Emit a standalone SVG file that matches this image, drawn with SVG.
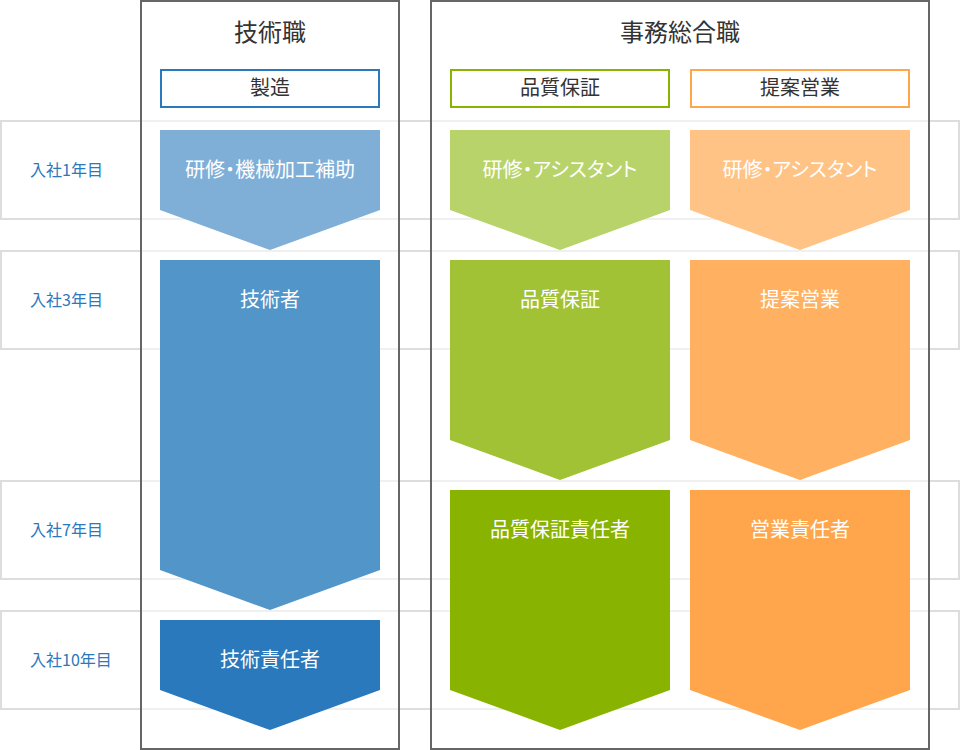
<svg xmlns="http://www.w3.org/2000/svg" width="960" height="750" viewBox="0 0 960 750">
<style>
text{font-family:"Noto Sans CJK JP","Noto Sans",sans-serif;text-anchor:middle}
.band{fill:#fff;stroke:#ddd;stroke-width:2}
.col{fill:#fff;fill-opacity:0.55;stroke:#666;stroke-width:2}
.title{font-size:24px;fill:#333}
.sub{fill:#fff;stroke-width:2}
.subt{font-size:20px;fill:#333}
.yr{font-size:16px;fill:#2a79bc;text-anchor:start}
.at{font-size:20px;fill:#fff;font-feature-settings:"palt"}
</style>
<g id="rows">
<g id="row1"><rect class="band" x="1" y="121" width="958" height="98"/><text class="yr" x="30" y="176">入社1年目</text></g>
<g id="row3"><rect class="band" x="1" y="251" width="958" height="98"/><text class="yr" x="30" y="306">入社3年目</text></g>
<g id="row7"><rect class="band" x="1" y="481" width="958" height="98"/><text class="yr" x="30" y="536">入社7年目</text></g>
<g id="row10"><rect class="band" x="1" y="611" width="958" height="98"/><text class="yr" x="30" y="666">入社10年目</text></g>
</g>
<g id="col-tech">
<rect class="col" x="141" y="1" width="258" height="748"/>
<text class="title" x="270" y="41">技術職</text>
</g>
<g id="col-office">
<rect class="col" x="431" y="1" width="498" height="748"/>
<text class="title" x="680" y="41">事務総合職</text>
</g>
<g id="sub-seizo"><rect class="sub" x="161" y="70" width="218" height="37" stroke="#2a79bc"/><text class="subt" x="270" y="95">製造</text></g>
<g id="sub-qa"><rect class="sub" x="451" y="70" width="218" height="37" stroke="#88b300"/><text class="subt" x="560" y="95">品質保証</text></g>
<g id="sub-sales"><rect class="sub" x="691" y="70" width="218" height="37" stroke="#ffa64d"/><text class="subt" x="800" y="95">提案営業</text></g>
<g id="connectors"></g>
<g id="t1"><polygon points="160,130 380,130 380,210 270,250 160,210" fill="#7fafd7"/><text class="at" x="270" y="177">研修・機械加工補助</text></g>
<g id="t2"><polygon points="160,260 380,260 380,570 270,610 160,570" fill="#5295c9"/><text class="at" x="270" y="307">技術者</text></g>
<g id="t3"><polygon points="160,620 380,620 380,690 270,730 160,690" fill="#2a79bc"/><text class="at" x="270" y="667">技術責任者</text></g>
<g id="q1"><polygon points="450,130 670,130 670,210 560,250 450,210" fill="#b8d36a"/><text class="at" x="560" y="177">研修・アシスタント</text></g>
<g id="q2"><polygon points="450,260 670,260 670,440 560,480 450,440" fill="#a1c234"/><text class="at" x="560" y="307">品質保証</text></g>
<g id="q3"><polygon points="450,490 670,490 670,690 560,730 450,690" fill="#88b300"/><text class="at" x="560" y="537">品質保証責任者</text></g>
<g id="s1"><polygon points="690,130 910,130 910,210 800,250 690,210" fill="#ffc385"/><text class="at" x="800" y="177">研修・アシスタント</text></g>
<g id="s2"><polygon points="690,260 910,260 910,440 800,480 690,440" fill="#ffb061"/><text class="at" x="800" y="307">提案営業</text></g>
<g id="s3"><polygon points="690,490 910,490 910,690 800,730 690,690" fill="#ffa64d"/><text class="at" x="800" y="537">営業責任者</text></g>
</svg>
